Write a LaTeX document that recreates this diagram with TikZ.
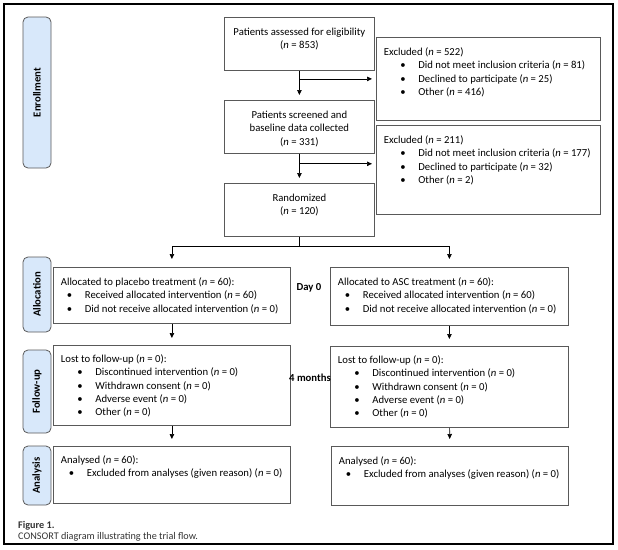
\documentclass[tikz,border=0pt]{standalone}
\usepackage{fontspec}
\setmainfont{Carlito}
\usetikzlibrary{arrows.meta}
\definecolor{stagefill}{HTML}{D8E8FA}
\definecolor{boxgray}{HTML}{595959}
\definecolor{capgray}{HTML}{333333}
\newcommand{\fs}    {\fontsize{10.7}{13.3}\selectfont}
\newcommand{\cs}    {\fontsize{10.2}{12}\selectfont}
\newcommand{\nn}    {\textit{n}}
\newcommand{\bitem}[2]{\hspace*{#1}\makebox[18pt][l]{\textbullet}\mbox{#2}}

\begin{document}
\begin{tikzpicture}[x=1pt,y=-1pt,
   every node/.style={font=\fs},
   box/.style={draw=boxgray,line width=0.8pt,inner xsep=7.5pt,inner ysep=0pt,anchor=north west},
   stage/.style={draw=boxgray,fill=stagefill,line width=0.8pt,rounded corners=5pt,
      rotate=90,minimum height=28pt,inner sep=0pt,font=\fs\bfseries},
   arr/.style={-{Triangle[length=5pt,width=4.5pt]},line width=0.7pt,shorten >=5pt}]
   \useasboundingbox (0,0) rectangle (618,549);
   \draw[line width=1.2pt] (4,4) rectangle (613,544);
   % stage labels
   \node[stage,minimum width=151pt] (enr) at (37,92.5)  {Enrollment};
   \node[stage,minimum width=75pt]  (alc) at (37,294.5) {Allocation};
   \node[stage,minimum width=83pt]  (fol) at (37,391.5) {Follow-up};
   \node[stage,minimum width=59pt]  (ana) at (37,475.5) {Analysis};
   % enrollment
   \node[box] (asd) at (224,17) {\parbox[c][53pt][t]{135pt}{\centering\rule{0pt}{18pt}Patients assessed for eligibility\\(\nn{} = 853)}};
   \node[box] (scr) at (224,100) {\parbox[c][53pt][t]{135pt}{\centering\rule{0pt}{18pt}Patients screened and\\baseline data collected\\(\nn{} = 331)}};
   \node[box] (rnd) at (224,183) {\parbox[c][53pt][t]{135pt}{\centering\rule{0pt}{18pt}Randomized\\(\nn{} = 120)}};
   \node[box] (ex1) at (376,37) {\parbox[c][83pt][t]{209pt}{\raggedright\rule{0pt}{18pt}Excluded (\nn{} = 522)\\
      \bitem{16.5pt}{Did not meet inclusion criteria (\nn{} = 81)}\\
      \bitem{16.5pt}{Declined to participate (\nn{} = 25)}\\
      \bitem{16.5pt}{Other (\nn{} = 416)}}};
   \node[box] (ex2) at (376,125) {\parbox[c][89pt][t]{209pt}{\raggedright\rule{0pt}{18pt}Excluded (\nn{} = 211)\\
      \bitem{16.5pt}{Did not meet inclusion criteria (\nn{} = 177)}\\
      \bitem{16.5pt}{Declined to participate (\nn{} = 32)}\\
      \bitem{16.5pt}{Other (\nn{} = 2)}}};
   % allocation
   \node[box] (alL) at (53,267) {\parbox[c][56pt][t]{222pt}{\raggedright\rule{0pt}{18pt}Allocated to placebo treatment (\nn{} = 60):\\
      \bitem{6pt}{Received allocated intervention (\nn{} = 60)}\\
      \bitem{6pt}{Did not receive allocated intervention (\nn{} = 0)}}};
   \node[box] (alR) at (330,267) {\parbox[c][58pt][t]{223pt}{\raggedright\rule{0pt}{18pt}Allocated to ASC treatment (\nn{} = 60):\\
      \bitem{7pt}{Received allocated intervention (\nn{} = 60)}\\
      \bitem{7pt}{Did not receive allocated intervention (\nn{} = 0)}}};
   % follow-up
   \node[box] (fuL) at (53,345) {\parbox[c][80pt][t]{222pt}{\raggedright\rule{0pt}{17pt}Lost to follow-up (\nn{} = 0):\\
      \bitem{16.5pt}{Discontinued intervention (\nn{} = 0)}\\
      \bitem{16.5pt}{Withdrawn consent (\nn{} = 0)}\\
      \bitem{16.5pt}{Adverse event (\nn{} = 0)}\\
      \bitem{16.5pt}{Other (\nn{} = 0)}}};
   \node[box] (fuR) at (330,346) {\parbox[c][81pt][t]{223pt}{\raggedright\rule{0pt}{17pt}Lost to follow-up (\nn{} = 0):\\
      \bitem{16.5pt}{Discontinued intervention (\nn{} = 0)}\\
      \bitem{16.5pt}{Withdrawn consent (\nn{} = 0)}\\
      \bitem{16.5pt}{Adverse event (\nn{} = 0)}\\
      \bitem{16.5pt}{Other (\nn{} = 0)}}};
   % analysis
   \node[box] (anL) at (53,446) {\parbox[c][57pt][t]{222pt}{\raggedright\rule{0pt}{17pt}Analysed (\nn{} = 60):\\
      \bitem{8pt}{Excluded from analyses (given reason) (\nn{} = 0)}}};
   \node[box] (anR) at (331,446) {\parbox[c][59pt][t]{222pt}{\raggedright\rule{0pt}{18pt}Analysed (\nn{} = 60):\\
      \bitem{7pt}{Excluded from analyses (given reason) (\nn{} = 0)}}};
   \node[font=\fs\bfseries] (day) at (309,288) {Day 0};
   \node[font=\fs\bfseries] (mon) at (310,378) {4 months};
   % arrows
   \draw[arr] (asd) -- (scr);
   \draw[arr,shorten >=4pt] (asd.south |- ex1.west) -- (ex1.west);
   \draw[arr] (scr) -- (rnd);
   \draw[arr,shorten >=4pt] ([yshift=-10pt]scr.south) coordinate (s2) -- (s2 -| ex2.west);
   \draw[line width=0.7pt] (rnd.south) -- ++(0,10) coordinate (sp);
   \draw[arr,shorten >=8pt] (sp) -| (alL.north);
   \draw[arr,shorten >=8pt] (sp) -| (alR.north);
   \draw[arr,shorten >=7pt] (alL) -- (fuL);
   \draw[arr,shorten >=7pt] (fuL) -- (anL);
   \draw[arr,shorten >=7pt] (alR) -- (fuR);
   \draw[arr,shorten >=7pt] (fuR) -- (anR);
   % caption
   \node[anchor=base west,inner sep=0pt,text=capgray,font=\cs\bfseries] (fig) at (18,528.5) {Figure 1.};
   \node[anchor=base west,inner sep=0pt,text=capgray,font=\cs] (cap) at (18,539.5) {CONSORT diagram illustrating the trial flow.};
\end{tikzpicture}
\end{document}
